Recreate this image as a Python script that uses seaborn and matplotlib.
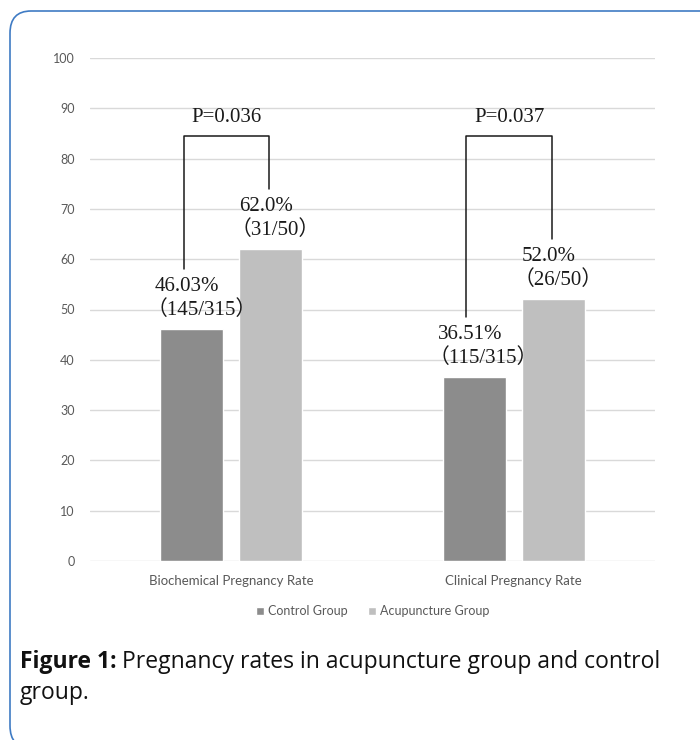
import numpy as np
import pandas as pd
import seaborn as sns
import matplotlib.pyplot as plt
from matplotlib.patches import FancyBboxPatch

# data
categories = ['Biochemical Pregnancy Rate', 'Clinical Pregnancy Rate']
groups = ['Control Group', 'Acupuncture Group']
control_rate = [46.03, 36.51]
acup_rate = [62.0, 52.0]
control_counts = ['（145/315）', '（115/315）']
acup_counts = ['（31/50）', '（26/50）']
control_pct = ['46.03%', '36.51%']
acup_pct = ['62.0%', '52.0%']
p_values = ['P=0.036', 'P=0.037']
yticks = [0, 10, 20, 30, 40, 50, 60, 70, 80, 90, 100]

df = pd.DataFrame({
    'category': categories * 2,
    'group': [groups[0]] * 2 + [groups[1]] * 2,
    'rate': control_rate + acup_rate,
})

sns.set_style('white')
serif = ['Liberation Serif', 'Noto Sans CJK SC']
tick_font = 'Lato'
cap_font = 'Open Sans'

fig = plt.figure(figsize=(7, 7.4), dpi=100)
ax = fig.add_axes([90 / 700, 1 - 561 / 740, 565 / 700, 503 / 740])

sns.barplot(data=df, x='category', y='rate', hue='group', order=categories,
            hue_order=groups, palette=['#8c8c8c', '#bfbfbf'],
            width=0.56, gap=0.2, saturation=1, ax=ax, zorder=3)

ax.set_ylim(0, 100)
ax.set_xlim(-0.5, 1.5)
ax.set_yticks(yticks)
ax.yaxis.grid(True, color='#d9d9d9', linewidth=1, zorder=0)
ax.set_axisbelow(True)
for s in ax.spines.values():
    s.set_visible(False)
ax.tick_params(axis='both', length=0, labelcolor='#595959')
ax.tick_params(axis='y', pad=11, labelsize=9)
ax.tick_params(axis='x', pad=10, labelsize=9.5)
for lab in ax.get_xticklabels() + ax.get_yticklabels():
    lab.set_fontfamily(tick_font)
ax.set_xlabel('')
ax.set_ylabel('')

# value labels above bars (percent line, then counts line)
texts = [(control_pct, control_counts, control_rate, -0.018),
         (acup_pct, acup_counts, acup_rate, 0.0)]
centers = []
for cont, (pct, cnt, vals, dx) in zip(ax.containers, texts):
    cx = []
    for bar, a, b, v in zip(cont, pct, cnt, vals):
        cx.append(bar.get_x() + bar.get_width() / 2)
        x0 = bar.get_x() + dx
        ax.text(x0, v + 8.5, a, ha='left', va='center', fontsize=15,
                family=serif, color='#1a1a1a')
        ax.text(x0 - 0.03, v + 3.8, b, ha='left', va='center', fontsize=15,
                family=serif, color='#1a1a1a')
    centers.append(cx)

# significance brackets
for i in range(len(categories)):
    x1, x2 = centers[0][i] - 0.028, centers[1][i] - 0.005
    y1, y2 = control_rate[i] + 12, acup_rate[i] + 12
    top = 84.5
    ax.plot([x1, x1, x2, x2], [y1, top, top, y2], color='#1a1a1a', lw=1.1, zorder=4)
    ax.text((x1 + x2) / 2, 88.2, p_values[i], ha='center', va='center',
            fontsize=15, family=serif, color='#1a1a1a')

# legend below axis
leg = ax.legend(loc='center', bbox_to_anchor=(0.5, -0.1), ncol=2, frameon=False,
                handlelength=0.7, handleheight=0.7, handletextpad=0.3, columnspacing=1.6,
                prop={'family': tick_font, 'size': 9})
for t in leg.get_texts():
    t.set_color('#595959')

# caption
fig.canvas.draw()
r = fig.canvas.get_renderer()
t1 = fig.text(20 / 700, 1 - 662 / 740, 'Figure 1:', fontsize=16.5, fontweight='bold',
              family=cap_font, va='center', color='#111111')
bb = t1.get_window_extent(renderer=r)
fig.text(bb.x1 / 700 + 6 / 700, 1 - 662 / 740,
         'Pregnancy rates in acupuncture group and control', fontsize=16.5,
         family=cap_font, va='center', color='#111111')
fig.text(20 / 700, 1 - 693 / 740, 'group.', fontsize=16.5, family=cap_font,
         va='center', color='#111111')

# rounded border (right and bottom edges run off the canvas)
box = FancyBboxPatch((10 / 700, -8 / 740), 740 / 700, (740 - 11 + 8) / 740,
                     boxstyle='round,pad=0,rounding_size=0.03', transform=fig.transFigure,
                     fill=False, edgecolor='#3f7bc4', linewidth=1.2, clip_on=False)
fig.patches.append(box)

fig.savefig('out.png', dpi=100)
